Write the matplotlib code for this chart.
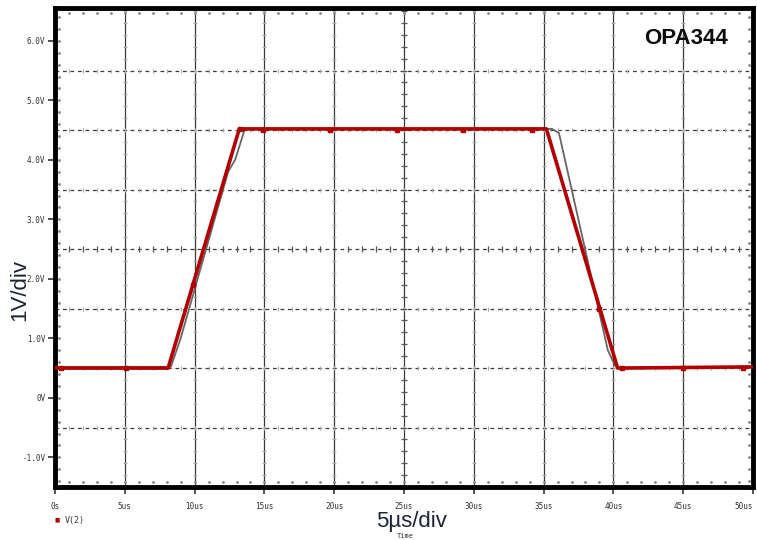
import numpy as np
import matplotlib.pyplot as plt

# red trace V(2)
t_red = [0, 8.1, 13.2, 35.2, 40.3, 50]
v_red = [0.5, 0.5, 4.52, 4.52, 0.5, 0.52]

# red square markers along the trace
t_mark = [0.4, 5.1, 9.9, 13.25, 14.9, 19.7, 24.5, 29.2, 34.2, 39.0, 40.6, 45.0, 49.3]
v_mark = [0.5, 0.5, 1.9, 4.52, 4.5, 4.5, 4.5, 4.5, 4.5, 1.5, 0.5, 0.5, 0.5]

# gray (measured) trace underneath
t_gray = [0, 8.3, 9.0, 12.4, 12.9, 13.6, 35.6, 36.1, 39.6, 40.1, 40.5, 50]
v_gray = [0.52, 0.52, 1.0, 3.8, 4.0, 4.52, 4.52, 4.45, 0.8, 0.55, 0.5, 0.52]

xticks = [0, 5, 10, 15, 20, 25, 30, 35, 40, 45, 50]
xlabels = ["0s", "5us", "10us", "15us", "20us", "25us", "30us", "35us", "40us", "45us", "50us"]
yticks = [-1, 0, 1, 2, 3, 4, 5, 6]
ylabels = ["-1.0V", "0V", "1.0V", "2.0V", "3.0V", "4.0V", "5.0V", "6.0V"]
hlines = [-0.5, 0.5, 1.5, 2.5, 3.5, 4.5, 5.5]

fig = plt.figure(figsize=(7.57, 5.4), dpi=100)
ax = fig.add_axes([0.0727, 0.098, 0.922, 0.887])
ax.set_xlim(0, 50)
ax.set_ylim(-1.5, 6.55)

# grid
for x in xticks[1:-1]:
    ax.axvline(x, color="#3a3a3a", lw=0.9, zorder=1)
    ax.plot([x] * 41, np.linspace(-1.5, 6.5, 41), ls="none", marker="_", ms=3,
            color="#aaaaaa", mew=0.8, zorder=1)
for y in hlines:
    ax.axhline(y, color="#3a3a3a", lw=0.9, ls=(0, (3, 3)), zorder=1)
    ax.plot(np.arange(1, 50, 1.0), [y] * 49, ls="none", marker="|", ms=3,
            color="#aaaaaa", mew=0.8, zorder=1)
# center cross ticks
ax.plot([25] * 41, np.linspace(-1.5, 6.5, 41), ls="none", marker="_", ms=5,
        color="#555555", mew=0.9, zorder=1)
ax.plot(np.arange(1, 50, 1.0), [2.5] * 49, ls="none", marker="|", ms=5,
        color="#555555", mew=0.9, zorder=1)
# border minor ticks
ax.plot(np.arange(1, 50, 1.0), [-1.42] * 49, ls="none", marker=".", ms=2, color="#888888")
ax.plot(np.arange(1, 50, 1.0), [6.47] * 49, ls="none", marker=".", ms=2, color="#888888")
ax.plot([0.3] * 40, np.arange(-1.4, 6.5, 0.2), ls="none", marker=".", ms=2, color="#888888")
ax.plot([49.7] * 40, np.arange(-1.4, 6.5, 0.2), ls="none", marker=".", ms=2, color="#888888")

# traces
ax.plot(t_gray, v_gray, color="#666666", lw=1.3, zorder=3)
ax.plot(t_red, v_red, color="#b30000", lw=2.6, zorder=4)
ax.plot(t_mark, v_mark, ls="none", marker="s", ms=3.5, color="#b30000", zorder=5)

for s in ax.spines.values():
    s.set_linewidth(3.5)
    s.set_color("black")

ax.set_xticks(xticks)
ax.set_xticklabels(xlabels)
ax.set_yticks(yticks)
ax.set_yticklabels(ylabels)
ax.tick_params(axis="both", labelsize=5.5, colors="#333333", length=5, width=1.2,
               direction="out")
ax.tick_params(axis="x", pad=6)
ax.tick_params(axis="y", pad=2)
for lab in ax.get_xticklabels() + ax.get_yticklabels():
    lab.set_family("DejaVu Sans Mono")
ax.get_xticklabels()[-1].set_ha("right")
ax.get_xticklabels()[-1].set_x(50.3)

fig.text(0.026, 0.463, "1V/div", rotation=90, ha="center", va="center",
         fontsize=16, color="#1c2438", family="Liberation Sans")
fig.text(0.543, 0.035, "5µs/div", ha="center", va="center",
         fontsize=16, color="#1c2438", family="Liberation Sans")
fig.text(0.535, 0.007, "Time", ha="center", va="center", fontsize=5,
         color="#333333", family="DejaVu Sans Mono")
fig.text(0.906, 0.928, "OPA344", ha="center", va="center", fontsize=16,
         fontweight="bold", color="#0d0d0d", family="Liberation Sans")
fig.text(0.076, 0.037, "■", ha="center", va="center", fontsize=4, color="#b30000")
fig.text(0.085, 0.037, "V(2)", ha="left", va="center", fontsize=6,
         color="#333333", family="DejaVu Sans Mono")

fig.savefig("out.png", dpi=100)
